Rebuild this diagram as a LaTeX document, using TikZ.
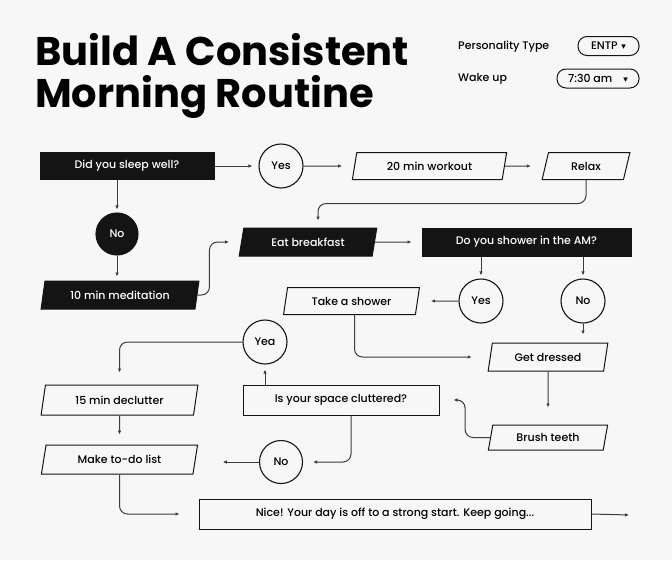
\documentclass[tikz,border=0pt]{standalone}
\usepackage{fontspec}
\setmainfont{Poppins}
\newfontfamily\boxfont{Poppins Medium}
\newfontfamily\arrowfont{DejaVu Sans}
\usetikzlibrary{shapes.geometric,arrows.meta}
\definecolor{pagebg}{RGB}{247,247,247}
\definecolor{ink}{RGB}{20,20,20}
\definecolor{wire}{RGB}{60,60,60}

\begin{document}
\begin{tikzpicture}[x=1pt,y=-1pt]
        \tikzstyle{every node}+=[inner sep=0pt, font=\boxfont\fontsize{11}{13}\selectfont]
        \tikzstyle{darkbox}=[draw=ink, fill=ink, text=white, minimum height=27pt, line width=1pt]
        \tikzstyle{lightbox}=[draw=ink, fill=pagebg, minimum height=27pt, line width=1pt]
        \tikzstyle{slanted}=[trapezium, trapezium left angle=73, trapezium right angle=107, trapezium stretches=true]
        \tikzstyle{answer}=[circle, draw=ink, fill=pagebg, line width=1.1pt, minimum size=44pt]
        \tikzstyle{pill}=[draw=ink, rounded corners=9pt, line width=1pt, minimum height=19pt]
        \tikzstyle{link}=[draw=wire, line width=1pt, -{Latex[length=4pt,width=3.5pt]}, rounded corners=8pt, shorten >=8pt]
        \fill [pagebg] (0,0) rectangle (672,560);
        \useasboundingbox (0,0) rectangle (672,560);
        \node [anchor=base west, font=\fontsize{40}{40}\selectfont\bfseries] (title1) at (35,65) {Build A Consistent};
        \node [anchor=base west, font=\fontsize{40}{40}\selectfont\bfseries] (title2) at (35,107) {Morning Routine};
        \node [anchor=west] (ptype) at (458,47) {Personality Type};
        \node [pill, minimum width=61pt] (entp) at (608.5,46) {ENTP\,\,{\arrowfont\small ▾}};
        \node [anchor=west] (wake) at (458,79) {Wake up};
        \node [pill, minimum width=82pt] (waketime) at (598,78.5) {7:30 am\quad{\arrowfont\small ▾}};
        \node [darkbox, minimum width=174pt] (sleep) at (127,166) {Did you sleep well?};
        \node [answer] (yes1) at (281,166) {Yes};
        \node [lightbox, slanted, minimum width=155pt] (work) at (429.5,166) {20 min workout};
        \node [lightbox, slanted, minimum width=88pt] (relax) at (586,166) {Relax};
        \node [answer, fill=ink, text=white, minimum size=42pt] (no1) at (117,234) {No};
        \node [darkbox, slanted, minimum width=158pt, minimum height=28pt] (med) at (120,295) {10 min meditation};
        \node [darkbox, slanted, minimum width=138pt, minimum height=28pt] (eat) at (308,242) {Eat breakfast};
        \node [darkbox, minimum width=209pt, minimum height=28pt] (shower) at (526.5,242) {Do you shower in the AM?};
        \node [answer] (yes2) at (481,301) {Yes};
        \node [answer] (no2) at (583,301) {No};
        \node [lightbox, slanted, minimum width=137pt] (wash) at (351.5,301) {Take a shower};
        \node [lightbox, slanted, minimum width=120pt, minimum height=28pt] (dress) at (548,357) {Get dressed};
        \node [lightbox, slanted, minimum width=120pt, minimum height=25pt] (teeth) at (548,437.5) {Brush teeth};
        \node [lightbox, minimum width=196pt, minimum height=30pt] (clutter) at (341,400) {Is your space cluttered?};
        \node [answer] (yea) at (265,342) {Yea};
        \node [answer, minimum size=43pt] (no3) at (281,462) {No};
        \node [lightbox, slanted, minimum width=157pt, minimum height=30pt] (declutter) at (119.5,400) {15 min declutter};
        \node [lightbox, slanted, minimum width=157pt, minimum height=29pt] (todo) at (119.5,459.5) {Make to-do list};
        \node [lightbox, minimum width=392pt, minimum height=30pt] (done) at (395,514) {Nice! Your day is off to a strong start. Keep going...};
        \coordinate (onward) at (629,515);
        \draw [link, shorten >=6pt] (sleep.east) -- (yes1.west);
        \draw [link, shorten >=12pt] (yes1.east) -- (work.west);
        \draw [link, shorten >=14pt] (work.east) -- (relax.west);
        \draw [link, shorten >=7pt] (relax.south) -- ++(0,23.5) -| ([xshift=10pt]eat.north);
        \draw [link, shorten >=3pt] (no1 |- sleep.south) -- (no1);
        \draw [link, shorten >=4pt] (no1) -- (no1 |- med.north);
        \draw [link, shorten >=12pt] (med.east) -- ++(12,0) |- (eat.west);
        \draw [link, shorten >=10pt] (eat.east) -- (shower.west);
        \draw [link, shorten >=3pt] (yes2 |- shower.south) -- (yes2);
        \draw [link, shorten >=3pt] (no2 |- shower.south) -- (no2);
        \draw [link, shorten >=13pt] (yes2) -- (wash.east);
        \draw [link, shorten >=18pt] ([xshift=3pt]wash.south) |- (dress.west);
        \draw [link, shorten >=8pt] (no2) -- (no2 |- dress.north);
        \draw [link, shorten >=17pt] (dress) -- (teeth);
        \draw [link, shorten >=14pt] (teeth.west) -- ++(-25,0) |- (clutter.east);
        \draw [link, shorten >=5pt] (yea |- clutter.north) -- (yea);
        \draw [link, shorten >=12pt] (yea) -| (declutter.north);
        \draw [link, shorten >=10pt] (declutter) -- (todo);
        \draw [link, shorten >=10pt] ([xshift=10pt]clutter.south) |- (no3.east);
        \draw [link, shorten >=27pt] (no3.west) -- (no3.west -| todo.east);
        \draw [link, shorten >=19pt] (todo.south) |- (done.west);
        \draw [link, shorten >=0pt] (done.east) -- (onward);
\end{tikzpicture}
\end{document}
